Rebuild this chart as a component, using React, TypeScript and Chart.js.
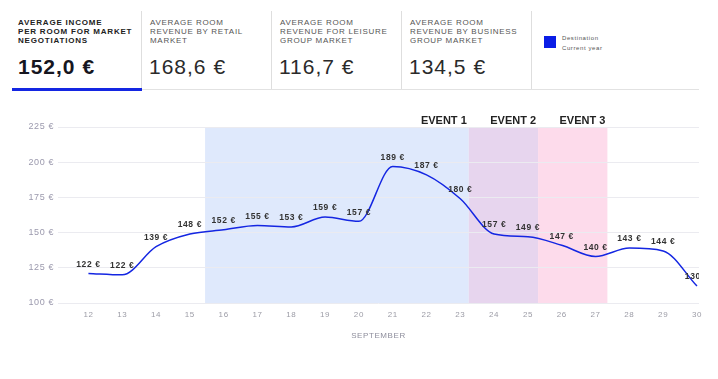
import React, { useEffect, useRef } from 'react';
import { Chart, registerables } from 'chart.js';

Chart.register(...registerables);

// ---- data ----
const days = [12, 13, 14, 15, 16, 17, 18, 19, 20, 21, 22, 23, 24, 25, 26, 27, 28, 29, 30];
const lineValues = [121, 120, 140, 149, 152, 155, 154, 161, 158, 197, 191, 174, 149, 147, 141, 133, 139, 137, 112];
const labelValues = [122, 122, 139, 148, 152, 155, 153, 159, 157, 189, 187, 180, 157, 149, 147, 140, 143, 144, 130];
const yTickValues = [100, 125, 150, 175, 200, 225];
const eventNames = ['EVENT 1', 'EVENT 2', 'EVENT 3'];
const bandEdges = [15.45, 23.25, 25.3, 27.35];
const monthLabel = 'SEPTEMBER';
const tabTitles = [
  ['AVERAGE INCOME', 'PER ROOM FOR MARKET', 'NEGOTIATIONS'],
  ['AVERAGE ROOM', 'REVENUE BY RETAIL', 'MARKET'],
  ['AVERAGE ROOM', 'REVENUE FOR LEISURE', 'GROUP MARKET'],
  ['AVERAGE ROOM', 'REVENUE BY BUSINESS', 'GROUP MARKET'],
];
const tabValues = ['152,0 €', '168,6 €', '116,7 €', '134,5 €'];
const legendLines = ['Destination', 'Current year'];

// ---- styles ----
const FONT = '"Liberation Sans", Arial, Helvetica, sans-serif';
const BLUE = '#1426e2';
const bandColors = ['#dfe9fc', '#e7d5ee', '#fddbeb'];

const overlayPlugin = {
  id: 'overlay',
  beforeDraw(chart: any) {
    const { ctx, chartArea, scales } = chart;
    const x = scales.x;
    ctx.save();
    for (let i = 0; i < eventNames.length; i++) {
      const x0 = x.getPixelForValue(bandEdges[i]);
      const x1 = x.getPixelForValue(bandEdges[i + 1]);
      ctx.fillStyle = bandColors[i];
      ctx.fillRect(x0, chartArea.top, x1 - x0, chartArea.bottom - chartArea.top);
    }
    ctx.restore();
    (ctx as any).letterSpacing = '0.6px';
  },
  afterDatasetsDraw(chart: any) {
    const { ctx, scales, chartArea } = chart;
    const x = scales.x;
    const y = scales.y;
    ctx.save();
    ctx.beginPath();
    ctx.rect(0, 0, chartArea.right, chart.height);
    ctx.clip();
    ctx.font = `bold 8.5px ${FONT}`;
    ctx.fillStyle = '#333';
    ctx.textAlign = 'center';
    ctx.textBaseline = 'middle';
    (ctx as any).letterSpacing = '0.6px';
    days.forEach((d, i) => {
      const px = x.getPixelForValue(d);
      const py = y.getPixelForValue(lineValues[i]);
      ctx.fillText(`${labelValues[i]} €`, px, py - 9);
    });
    ctx.restore();
  },
  afterDraw(chart: any) {
    const { ctx, chartArea, scales } = chart;
    const x = scales.x;
    ctx.save();
    (ctx as any).letterSpacing = '0px';
    ctx.font = `bold 11px ${FONT}`;
    ctx.fillStyle = '#222';
    ctx.textAlign = 'right';
    ctx.textBaseline = 'middle';
    for (let i = 0; i < eventNames.length; i++) {
      const x1 = x.getPixelForValue(bandEdges[i + 1]);
      ctx.fillText(eventNames[i], x1 - 2, chartArea.top - 6.5);
    }
    ctx.restore();
    (ctx as any).letterSpacing = '0px';
  },
};

function ChartCanvas() {
  const ref = useRef<HTMLCanvasElement>(null);
  useEffect(() => {
    if (!ref.current) return;
    Chart.defaults.font.family = FONT;
    const chart = new Chart(ref.current, {
      type: 'line',
      data: {
        datasets: [
          {
            label: 'Destination Current year',
            data: days.map((d, i) => ({ x: d, y: lineValues[i] })),
            borderColor: BLUE,
            borderWidth: 1.5,
            pointRadius: 0,
            cubicInterpolationMode: 'monotone',
            fill: false,
          },
        ],
      },
      options: {
        animation: false,
        responsive: false,
        layout: { padding: { top: 27, right: 13, bottom: 7, left: 0 } },
        plugins: { legend: { display: false }, tooltip: { enabled: false } },
        scales: {
          x: {
            type: 'linear',
            min: 11.1,
            max: 30.06,
            grid: { display: false, drawTicks: false },
            border: { display: false },
            afterBuildTicks: (s: any) => {
              s.ticks = days.map((v) => ({ value: v }));
            },
            afterFit: (s: any) => {
              s.height = 40;
              s.paddingLeft = 0;
              s.paddingRight = 0;
            },
            ticks: {
              padding: 7,
              font: { size: 8 },
              color: '#9c9ca6',
              autoSkip: false,
              maxRotation: 0,
              callback: (v: any) => String(v),
            },
            title: {
              display: true,
              text: monthLabel,
              color: '#8e8e9c',
              font: { size: 8 },
              padding: { top: 0, bottom: 2 },
            },
          },
          y: {
            min: 100,
            max: 225,
            grid: { color: '#ebebf0', drawTicks: false, lineWidth: 1 },
            border: { display: false },
            afterBuildTicks: (s: any) => {
              s.ticks = yTickValues.map((v) => ({ value: v }));
            },
            afterFit: (s: any) => {
              s.width = 58;
              s.paddingTop = 0;
              s.paddingBottom = 0;
            },
            ticks: {
              padding: 4,
              font: { size: 9 },
              color: '#9b99ad',
              callback: (v: any) => `${v} €`,
            },
          },
        },
      },
      plugins: [overlayPlugin],
    } as any);
    return () => chart.destroy();
  }, []);
  return (
    <canvas
      ref={ref}
      width={712}
      height={250}
      style={{ position: 'absolute', left: 0, top: 100, width: 712, height: 250 }}
    />
  );
}

export default function App() {
  const tabLefts = [12, 142, 272, 402];
  return (
    <div
      style={{
        position: 'absolute',
        left: 0,
        top: 0,
        width: 718,
        height: 379,
        background: '#fff',
        fontFamily: FONT,
        overflow: 'hidden',
      }}
    >
      {tabLefts.map((left, i) => (
        <div key={i}>
          {i > 0 && (
            <div style={{ position: 'absolute', left: left - 1, top: 11, width: 1, height: 78, background: '#dedede' }} />
          )}
          <div
            style={{
              position: 'absolute',
              left: left + (i === 0 ? 6 : 8),
              top: 17.5,
              fontSize: 8,
              lineHeight: '9px',
              letterSpacing: i === 0 ? '0.8px' : '0.7px',
              fontWeight: i === 0 ? 700 : 400,
              color: i === 0 ? '#222' : '#555',
              whiteSpace: 'nowrap',
            }}
          >
            {tabTitles[i].map((t, j) => (
              <div key={j}>{t}</div>
            ))}
          </div>
          <div
            style={{
              position: 'absolute',
              left: left + (i === 0 ? 6 : 7),
              top: 55,
              fontSize: 21,
              lineHeight: '24px',
              letterSpacing: '1px',
              fontWeight: i === 0 ? 700 : 400,
              color: i === 0 ? '#16161f' : '#2a2a2a',
              whiteSpace: 'nowrap',
            }}
          >
            {tabValues[i]}
          </div>
        </div>
      ))}
      <div style={{ position: 'absolute', left: 531, top: 11, width: 1, height: 78, background: '#dedede' }} />
      <div style={{ position: 'absolute', left: 544, top: 36, width: 12, height: 12, background: '#0a1de6' }} />
      <div
        style={{
          position: 'absolute',
          left: 562,
          top: 32.5,
          fontSize: 6,
          lineHeight: '10px',
          letterSpacing: '0.6px',
          color: '#555',
          whiteSpace: 'nowrap',
        }}
      >
        {legendLines.map((t, j) => (
          <div key={j}>{t}</div>
        ))}
      </div>
      <div style={{ position: 'absolute', left: 12, top: 89, width: 687, height: 1, background: '#e2e2e2' }} />
      <div style={{ position: 'absolute', left: 12, top: 87.5, width: 130, height: 3, background: BLUE }} />
      <ChartCanvas />
    </div>
  );
}
